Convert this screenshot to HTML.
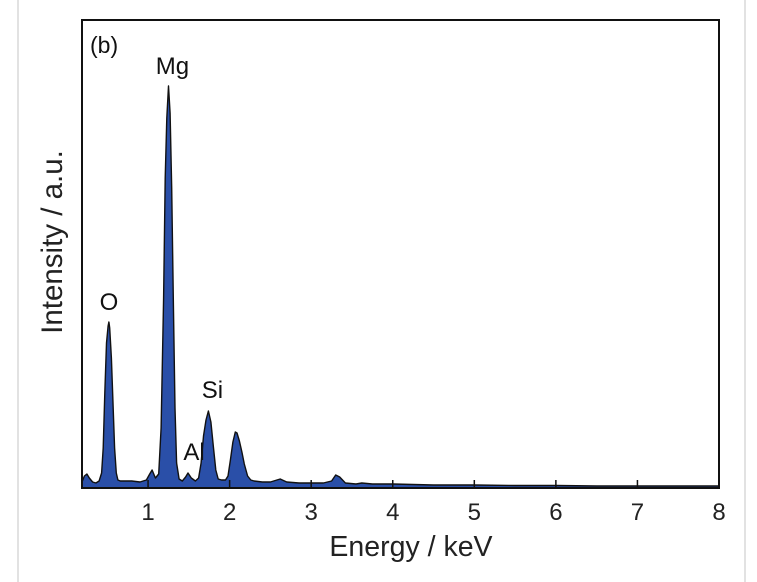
<!DOCTYPE html>
<html><head><meta charset="utf-8"><style>
html,body{margin:0;padding:0;background:#fff;}
svg{display:block;font-family:"Liberation Sans",sans-serif;}
</style></head><body>
<svg id="chart" width="757" height="582" viewBox="0 0 757 582">
<line x1="18" y1="0" x2="18" y2="582" stroke="#d8d8d8" stroke-width="1.5"/>
<line x1="745" y1="0" x2="745" y2="582" stroke="#d8d8d8" stroke-width="1.5"/>
<g id="plot"></g>
<rect x="82" y="20" width="637" height="468" fill="none" stroke="#111" stroke-width="2"/>
<text x="90" y="53" font-size="23" fill="#111">(b)</text>
<text x="411" y="556" font-size="28.5" text-anchor="middle" fill="#222">Energy / keV</text>
<text transform="translate(62,242) rotate(-90)" font-size="29.5" text-anchor="middle" fill="#222">Intensity / a.u.</text>
</svg>
<script>
const energies=[0.19,0.22,0.25,0.28,0.32,0.36,0.40,0.43,0.45,0.47,0.49,0.51,0.52,0.53,0.55,0.57,0.59,0.61,0.63,0.66,0.70,0.80,0.90,0.98,1.02,1.05,1.09,1.13,1.16,1.19,1.21,1.23,1.25,1.27,1.29,1.31,1.33,1.35,1.38,1.42,1.46,1.49,1.53,1.58,1.62,1.65,1.68,1.71,1.74,1.77,1.80,1.83,1.86,1.90,1.95,1.98,2.01,2.04,2.07,2.09,2.12,2.15,2.18,2.22,2.26,2.30,2.40,2.50,2.62,2.70,2.85,3.00,3.15,3.25,3.30,3.35,3.42,3.55,3.62,3.75,4.0,4.5,5.0,5.5,6.0,6.5,7.0,7.5,8.0];
const counts=[6,12,14,10,6,5,7,15,40,95,145,162,166,160,130,85,40,15,8,7,7,7,6,8,14,18,10,14,60,190,310,370,402,375,300,190,80,25,9,7,11,15,10,7,10,25,52,68,77,66,42,18,9,8,8,12,28,46,56,55,47,36,24,12,8,7,6,6,9,6,5,5,5,7,13,11,5,4,5,4,4,3,3,2.5,2.5,2,2,2,2];
const xTicks=[1,2,3,4,5,6,7,8];
const peakLabels=["O","Mg","Al","Si"];
const peakEnergies=[0.52,1.25,1.49,1.74];
const peakCounts=[166,402,15,77];
const labelDx=[0,4,6,4];
const labelDy=[12,12,13,13];

const X0=82,X1=719,Y0=488,Y1=20,EMIN=0.19,EMAX=8,CMAX=468;
const xs=e=>X0+(e-EMIN)/(EMAX-EMIN)*(X1-X0);
const ys=c=>Y0-c/CMAX*(Y0-Y1);
const NS="http://www.w3.org/2000/svg";
const g=document.getElementById('plot');

let d=`M${xs(energies[0])},${Y0}`;
energies.forEach((e,i)=>{d+=` L${xs(e).toFixed(1)},${ys(counts[i]).toFixed(1)}`;});
d+=` L${xs(energies[energies.length-1])},${Y0} Z`;
const area=document.createElementNS(NS,'path');
area.setAttribute('d',d);area.setAttribute('fill','#2a4fa8');area.setAttribute('stroke','#111');area.setAttribute('stroke-width','1.4');area.setAttribute('stroke-linejoin','round');


g.appendChild(area);

xTicks.forEach(t=>{
 const l=document.createElementNS(NS,'line');
 l.setAttribute('x1',xs(t));l.setAttribute('x2',xs(t));l.setAttribute('y1',Y0);l.setAttribute('y2',Y0-8);
 l.setAttribute('stroke','#111');l.setAttribute('stroke-width','1.5');
 
 
 g.appendChild(l);
 const tx=document.createElementNS(NS,'text');
 tx.setAttribute('x',xs(t));tx.setAttribute('y',Y0+32);tx.setAttribute('font-size','24');tx.setAttribute('text-anchor','middle');tx.setAttribute('fill','#222');
 tx.textContent=t;
 
 
 g.appendChild(tx);
});

peakLabels.forEach((p,i)=>{
 const tx=document.createElementNS(NS,'text');
 tx.setAttribute('x',xs(peakEnergies[i])+labelDx[i]);
 tx.setAttribute('y',ys(peakCounts[i])-labelDy[i]);
 tx.setAttribute('font-size','24');tx.setAttribute('text-anchor','middle');tx.setAttribute('fill','#111');
 tx.textContent=p;
 
 
 g.appendChild(tx);
});
</script>
</body></html>
